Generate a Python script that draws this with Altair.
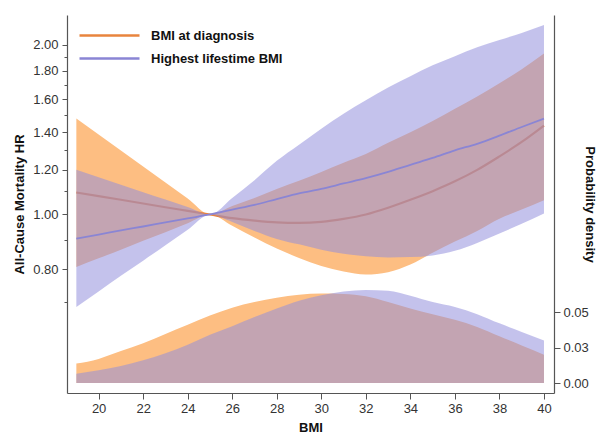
import altair as alt
import pandas as pd

bmi = [19, 20, 21, 22, 23, 24, 25, 26, 27, 28, 29, 30, 31, 32, 33, 34, 35, 36, 37, 38, 39, 40]

# BMI at diagnosis: HR and 95% CI
dx_hr = [1.094, 1.078, 1.062, 1.046, 1.030, 1.015, 1.0, 0.985, 0.975, 0.968, 0.966, 0.970, 0.982,
         1.000, 1.028, 1.062, 1.100, 1.145, 1.200, 1.268, 1.345, 1.438]
dx_lo = [0.807, 0.836, 0.866, 0.898, 0.930, 0.965, 1.0, 0.955, 0.910, 0.870, 0.837, 0.810, 0.792,
         0.782, 0.790, 0.815, 0.855, 0.895, 0.935, 0.983, 1.020, 1.060]
dx_hi = [1.480, 1.386, 1.299, 1.216, 1.140, 1.067, 1.0, 1.035, 1.070, 1.110, 1.148, 1.190, 1.235,
         1.280, 1.340, 1.400, 1.465, 1.540, 1.620, 1.710, 1.810, 1.930]

# Highest lifetime BMI: HR and 95% CI
hi_hr = [0.906, 0.921, 0.937, 0.952, 0.968, 0.984, 1.0, 1.020, 1.040, 1.065, 1.090, 1.110, 1.135,
         1.160, 1.190, 1.225, 1.260, 1.300, 1.335, 1.380, 1.430, 1.480]
hi_lo = [0.685, 0.730, 0.778, 0.828, 0.882, 0.939, 1.0, 0.970, 0.935, 0.905, 0.885, 0.866, 0.852,
         0.843, 0.839, 0.840, 0.846, 0.862, 0.890, 0.925, 0.963, 1.004]
hi_hi = [1.200, 1.164, 1.129, 1.095, 1.063, 1.031, 1.0, 1.070, 1.150, 1.245, 1.330, 1.420, 1.510,
         1.595, 1.680, 1.760, 1.840, 1.910, 1.980, 2.040, 2.100, 2.170]

# Probability density of BMI
dx_dens = [0.0137, 0.0170, 0.0225, 0.0280, 0.0345, 0.0410, 0.0475, 0.0530, 0.0570, 0.0600, 0.0622,
           0.0630, 0.0627, 0.0610, 0.0570, 0.0525, 0.0485, 0.0445, 0.0395, 0.0330, 0.0265, 0.0200]
hi_dens = [0.0066, 0.0090, 0.0120, 0.0160, 0.0210, 0.0270, 0.0340, 0.0400, 0.0465, 0.0525, 0.0580,
           0.0618, 0.0645, 0.0655, 0.0650, 0.0615, 0.0570, 0.0535, 0.0485, 0.0420, 0.0360, 0.0300]

series = ["BMI at diagnosis", "Highest lifestime BMI"]
hr_ticks = [0.7, 0.8, 0.9, 1.0, 1.1, 1.2, 1.3, 1.4, 1.5, 1.6, 1.7, 1.8, 1.9, 2.0]
x_ticks = [20, 22, 24, 26, 28, 30, 32, 34, 36, 38, 40]
dens_ticks = [0.0, 0.025, 0.05]

ORANGE_FILL = "#FDBE82"
PURPLE_FILL = "#928EDC"
LINE_COLORS = ["#E8843E", "#8A85D4"]
FONT = "Liberation Sans"

df_dx = pd.DataFrame({"bmi": bmi, "hr": dx_hr, "lo": dx_lo, "hi": dx_hi, "dens": dx_dens,
                      "series": series[0]})
df_hi = pd.DataFrame({"bmi": bmi, "hr": hi_hr, "lo": hi_lo, "hi": hi_hi, "dens": hi_dens,
                      "series": series[1]})

x_scale = alt.Scale(domain=[18.58, 40.45], nice=False, zero=False)
hr_scale = alt.Scale(type="log", domain=[0.482, 2.26], nice=False)
dens_scale = alt.Scale(domain=[-0.007, 0.259], nice=False, zero=False)
color_scale = alt.Scale(domain=series, range=LINE_COLORS)

x_axis = alt.Axis(title="BMI", values=x_ticks, format="d", tickSize=6, labelPadding=3,
                  titlePadding=6)
major_test = "indexof([0.8, 1, 1.2, 1.4, 1.6, 1.8, 2], round(datum.value*10)/10) >= 0"
left_axis = alt.Axis(
    title="All-Cause Mortality HR", orient="left", values=hr_ticks,
    labelExpr=major_test + " ? format(datum.value, '.2f') : ''",
    tickSize={"condition": {"test": major_test, "value": 5}, "value": 3},
    labelPadding=4, titlePadding=6,
)
right_axis = alt.Axis(title="Probability density", orient="right", values=dens_ticks, format=".2f",
                      tickSize=6, labelPadding=3, titleX=28, titleAngle=90)

x_enc = alt.X("bmi:Q", scale=x_scale, axis=x_axis)

dx_band = alt.Chart(df_dx).mark_area(color=ORANGE_FILL, opacity=1, interpolate="monotone").encode(
    x=x_enc,
    y=alt.Y("lo:Q", scale=hr_scale, axis=left_axis),
    y2="hi:Q",
)
dx_line = alt.Chart(df_dx).mark_line(strokeWidth=2.2, interpolate="monotone").encode(
    x=x_enc,
    y=alt.Y("hr:Q", scale=hr_scale, axis=None),
    color=alt.Color("series:N", scale=color_scale, legend=alt.Legend(
        orient="none", legendX=35, legendY=13, title=None, symbolType="M-5,0H5",
        symbolSize=144, symbolStrokeWidth=2.5, labelFontWeight="bold", labelFontSize=13,
        labelFont=FONT, labelColor="#111111", labelOffset=34, rowPadding=8)),
)
dx_dens_area = alt.Chart(df_dx).mark_area(color=ORANGE_FILL, opacity=1, interpolate="monotone").encode(
    x=x_enc,
    y=alt.Y("dens:Q", scale=dens_scale, axis=right_axis),
    y2=alt.datum(0),
)
hi_band = alt.Chart(df_hi).mark_area(color=PURPLE_FILL, opacity=0.54, interpolate="monotone").encode(
    x=x_enc,
    y=alt.Y("lo:Q", scale=hr_scale, axis=None),
    y2="hi:Q",
)
hi_dens_area = alt.Chart(df_hi).mark_area(color=PURPLE_FILL, opacity=0.54, interpolate="monotone").encode(
    x=x_enc,
    y=alt.Y("dens:Q", scale=dens_scale, axis=None),
    y2=alt.datum(0),
)
hi_line = alt.Chart(df_hi).mark_line(strokeWidth=1.8, interpolate="monotone").encode(
    x=x_enc,
    y=alt.Y("hr:Q", scale=hr_scale, axis=None),
    color=alt.Color("series:N", scale=color_scale, legend=None),
)

chart = alt.layer(
    dx_band, dx_line, dx_dens_area, hi_band, hi_dens_area, hi_line
).resolve_scale(y="independent").properties(
    width=487, height=378,
    autosize=alt.AutoSizeParams(type="none"),
    padding={"left": 59, "top": 7, "right": 44, "bottom": 43},
    background="white",
).configure_view(stroke=None).configure_axis(
    labelFont=FONT, labelFontSize=13, labelColor="#333333",
    titleFont=FONT, titleFontSize=13, titleFontWeight="bold", titleColor="#111111",
    domainColor="#555555", domainWidth=1.2, tickColor="#555555", tickWidth=1, grid=False,
)

chart.save("out.html", embed_options={"renderer": "svg", "actions": False})
